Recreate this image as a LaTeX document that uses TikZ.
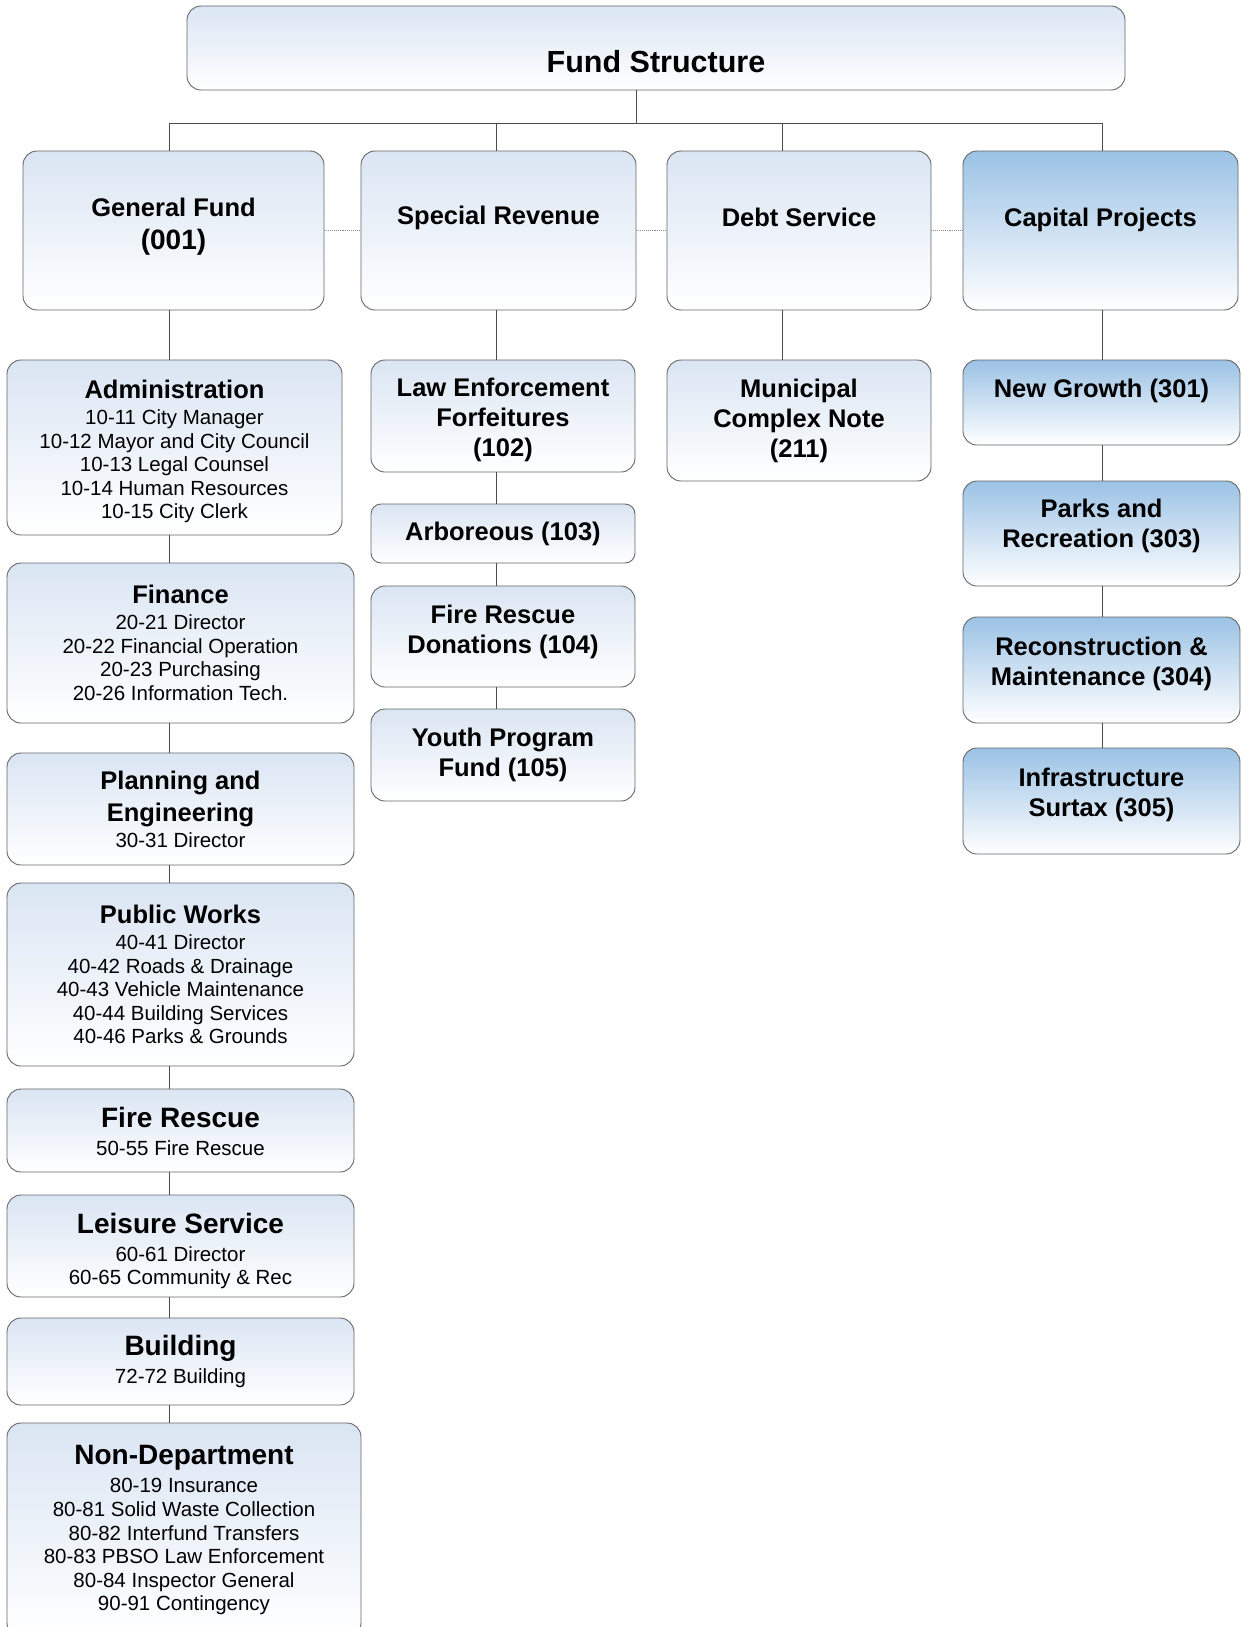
\documentclass[tikz,border=0pt]{standalone}
\usepackage{fontspec}
\setmainfont{Liberation Sans}

\definecolor{fundblue}{RGB}{218,229,243}
\definecolor{capblue}{RGB}{155,194,229}

\tikzset{
  fund/.style={draw=black!60, line width=0.9pt, rounded corners=14pt, top color=fundblue, bottom color=white, inner sep=0pt},
  capital/.style={fund, top color=capblue},
  link/.style={draw=black!70, line width=0.9pt},
  peer/.style={draw=black!45, line width=0.9pt, densely dotted},
  head/.style={align=center, inner sep=0pt, font=\fontsize{25.5}{30}\selectfont\bfseries},
  dept/.style={align=center, inner sep=0pt, font=\fontsize{20.5}{23.6}\selectfont}
}
\newcommand\deptname[1]{{\fontsize{25.5}{30}\selectfont\bfseries #1}}
\newcommand\bigdept[1]{{\fontsize{28}{32}\selectfont\bfseries #1}}

\begin{document}
\begin{tikzpicture}[x=1pt,y=-1pt]
		\useasboundingbox (0,0) rectangle (1241,1627);
		\coordinate (bus) at (0,123);
		\coordinate (stem) at (636,0);
		\coordinate (c1) at (169,0);
		\coordinate (c2) at (496,0);
		\coordinate (c3) at (782,0);
		\coordinate (c4) at (1102,0);

		% top of the tree
		\draw (656,48) node[fund, minimum width=938pt, minimum height=84pt] (top) {};
		\draw ([yshift=-14pt]top.center) node[head, font=\fontsize{30.5}{34}\selectfont\bfseries] (topT) {Fund Structure};

		% the four fund types
		\draw (173.5,230.5) node[fund, minimum width=301pt, minimum height=159pt] (gen) {};
		\draw (498.5,230.5) node[fund, minimum width=275pt, minimum height=159pt] (spec) {};
		\draw (799,230.5) node[fund, minimum width=264pt, minimum height=159pt] (debt) {};
		\draw (1100.5,230.5) node[capital, minimum width=275pt, minimum height=159pt] (cap) {};
		\draw ([yshift=3.5pt]gen.center) node[head] (genT) {General Fund\\[3pt]{\fontsize{28}{33}\selectfont (001)}};
		\draw ([yshift=13pt]spec.center) node[head] (specT) {Special Revenue};
		\draw ([yshift=13.5pt]debt.center) node[head] (debtT) {Debt Service};
		\draw ([yshift=11pt]cap.center) node[head] (capT) {Capital Projects};

		% general fund departments
		\draw (174.5,447.5) node[fund, minimum width=335pt, minimum height=175pt] (admin) {};
		\draw (180.5,643) node[fund, minimum width=347pt, minimum height=160pt] (fin) {};
		\draw (180.5,809) node[fund, minimum width=347pt, minimum height=112pt] (plan) {};
		\draw (180.5,974.5) node[fund, minimum width=347pt, minimum height=183pt] (pw) {};
		\draw (180.5,1130.5) node[fund, minimum width=347pt, minimum height=83pt] (fire) {};
		\draw (180.5,1246) node[fund, minimum width=347pt, minimum height=102pt] (leis) {};
		\draw (180.5,1361.5) node[fund, minimum width=347pt, minimum height=87pt] (bldg) {};
		\draw (184,1530) node[fund, minimum width=354pt, minimum height=214pt] (nondept) {};
		\draw ([yshift=-4pt]admin.center) node[dept] (adminT) {\deptname{Administration}\\[2.5pt] 10-11 City Manager\\ 10-12 Mayor and City Council\\ 10-13 Legal Counsel\\ 10-14 Human Resources\\ 10-15 City Clerk};
		\draw (fin.center) node[dept] (finT) {\deptname{Finance}\\[2.5pt] 20-21 Director\\ 20-22 Financial Operation\\ 20-23 Purchasing\\ 20-26 Information Tech.};
		\draw (plan.center) node[dept] (planT) {\deptname{Planning and}\\[7pt] \deptname{Engineering}\\[2.5pt] 30-31 Director};
		\draw (pw.center) node[dept] (pwT) {\deptname{Public Works}\\[2.5pt] 40-41 Director\\ 40-42 Roads \& Drainage\\ 40-43 Vehicle Maintenance\\ 40-44 Building Services\\ 40-46 Parks \& Grounds};
		\draw ([yshift=-1pt]fire.center) node[dept] (fireT) {\bigdept{Fire Rescue}\\[4.5pt] 50-55 Fire Rescue};
		\draw ([yshift=-5pt]leis.center) node[dept] (leisT) {\bigdept{Leisure Service}\\[4.5pt] 60-61 Director\\ 60-65 Community \& Rec};
		\draw (bldg.center) node[dept] (bldgT) {\bigdept{Building}\\[4.5pt] 72-72 Building};
		\draw (nondept.center) node[dept] (nondeptT) {\bigdept{Non-Department}\\[5pt] 80-19 Insurance\\ 80-81 Solid Waste Collection\\ 80-82 Interfund Transfers\\ 80-83 PBSO Law Enforcement\\ 80-84 Inspector General\\ 90-91 Contingency};

		% special revenue funds
		\draw (503,416) node[fund, minimum width=264pt, minimum height=112pt] (law) {};
		\draw (503,533.5) node[fund, rounded corners=10pt, minimum width=264pt, minimum height=59pt] (arb) {};
		\draw (503,636.5) node[fund, minimum width=264pt, minimum height=101pt] (frd) {};
		\draw (503,755) node[fund, minimum width=264pt, minimum height=92pt] (youth) {};
		\draw ([yshift=-4pt]law.center) node[head] (lawT) {Law Enforcement\\ Forfeitures\\ (102)};
		\draw (arb.center) node[head] (arbT) {Arboreous (103)};
		\draw ([yshift=5pt]frd.center) node[head] (frdT) {Fire Rescue\\ Donations (104)};
		\draw (youth.center) node[head] (youthT) {Youth Program\\ Fund (105)};

		% debt service
		\draw (799,420.5) node[fund, minimum width=264pt, minimum height=121pt] (muni) {};
		\draw (muni.center) node[head] (muniT) {Municipal\\ Complex Note\\ (211)};

		% capital projects funds
		\draw (1101.5,402.5) node[capital, minimum width=277pt, minimum height=85pt] (newg) {};
		\draw (1101.5,533.5) node[capital, minimum width=277pt, minimum height=105pt] (parks) {};
		\draw (1101.5,670) node[capital, minimum width=277pt, minimum height=106pt] (recon) {};
		\draw (1101.5,801) node[capital, minimum width=277pt, minimum height=106pt] (infra) {};
		\draw ([yshift=12pt]newg.center) node[head] (newgT) {New Growth (301)};
		\draw ([yshift=7.5pt]parks.center) node[head] (parksT) {Parks and\\ Recreation (303)};
		\draw ([yshift=6.5pt]recon.center) node[head] (reconT) {Reconstruction \&\\ Maintenance (304)};
		\draw ([yshift=6pt]infra.center) node[head] (infraT) {Infrastructure\\ Surtax (305)};

		% connectors
		\draw[link] (stem |- top.south) -- (stem |- bus);
		\draw[link] (c1 |- bus) -- (c4 |- bus);
		\draw[link] (c1 |- bus) -- (c1 |- gen.north);
		\draw[link] (c2 |- bus) -- (c2 |- spec.north);
		\draw[link] (c3 |- bus) -- (c3 |- debt.north);
		\draw[link] (c4 |- bus) -- (c4 |- cap.north);
		\draw[peer] (gen.east) -- (spec.west);
		\draw[peer] (spec.east) -- (debt.west);
		\draw[peer] (debt.east) -- (cap.west);

		\draw[link] (c1 |- gen.south) -- (c1 |- admin.north);
		\draw[link] (c1 |- admin.south) -- (c1 |- fin.north);
		\draw[link] (c1 |- fin.south) -- (c1 |- plan.north);
		\draw[link] (c1 |- plan.south) -- (c1 |- pw.north);
		\draw[link] (c1 |- pw.south) -- (c1 |- fire.north);
		\draw[link] (c1 |- fire.south) -- (c1 |- leis.north);
		\draw[link] (c1 |- leis.south) -- (c1 |- bldg.north);
		\draw[link] (c1 |- bldg.south) -- (c1 |- nondept.north);

		\draw[link] (c2 |- spec.south) -- (c2 |- law.north);
		\draw[link] (c2 |- law.south) -- (c2 |- arb.north);
		\draw[link] (c2 |- arb.south) -- (c2 |- frd.north);
		\draw[link] (c2 |- frd.south) -- (c2 |- youth.north);

		\draw[link] (c3 |- debt.south) -- (c3 |- muni.north);

		\draw[link] (c4 |- cap.south) -- (c4 |- newg.north);
		\draw[link] (c4 |- newg.south) -- (c4 |- parks.north);
		\draw[link] (c4 |- parks.south) -- (c4 |- recon.north);
		\draw[link] (c4 |- recon.south) -- (c4 |- infra.north);
\end{tikzpicture}
\end{document}
